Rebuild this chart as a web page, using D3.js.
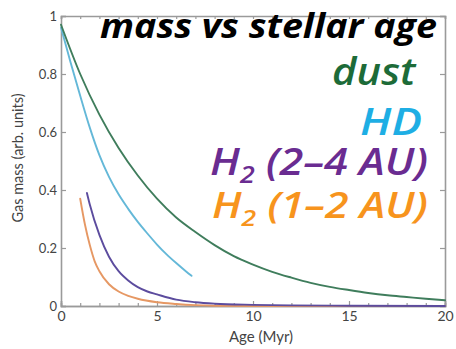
<!DOCTYPE html>
<html><head><meta charset="utf-8">
<script src="https://cdn.jsdelivr.net/npm/d3@7"></script>
<style>html,body{margin:0;padding:0;background:#fff;overflow:hidden}</style>
</head><body>
<svg id="c" width="456" height="349"></svg>
<script>
// ---- data ----
const dustAge = [0,1,2,3,4,5,6,7,8,9,10,11,12,13,14,15,16,17,18,19,20];
const dustMass = [0.97,0.80,0.66,0.545,0.45,0.37,0.305,0.255,0.21,0.172,0.143,0.118,0.098,0.08,0.066,0.055,0.045,0.037,0.031,0.025,0.02];
const hdAge = [0,0.5,1,1.5,2,2.5,3,3.5,4,4.5,5,5.5,6,6.5,6.8];
const hdMass = [0.96,0.84,0.725,0.615,0.52,0.445,0.385,0.335,0.29,0.25,0.212,0.178,0.148,0.12,0.104];
const h2outerAge = [1.35,1.5,2,2.5,3,3.5,4,4.5,5,6,7,8,10,12,15,20];
const h2outerMass = [0.39,0.35,0.245,0.17,0.12,0.088,0.065,0.05,0.04,0.022,0.013,0.008,0.004,0.002,0.001,0.0];
const h2innerAge = [1,1.25,1.5,1.75,2,2.5,3,3.5,4,5,6,7,8,10,20];
const h2innerMass = [0.37,0.28,0.21,0.155,0.12,0.075,0.05,0.035,0.025,0.013,0.007,0.003,0.001,0.0,0.0];
const xTicks = [0,5,10,15,20];
const xMinorTicks = [1,2,3,4,6,7,8,9,11,12,13,14,16,17,18,19];
const yTicks = [0,0.2,0.4,0.6,0.8,1];
const yTickLabels = ["0","0.2","0.4","0.6","0.8","1"];
const seriesNames = ["dust","HD","H2 (2–4 AU)","H2 (1–2 AU)"];
const titleText = "mass vs stellar age";
const xLabel = "Age (Myr)";
const yLabel = "Gas mass (arb. units)";

// ---- layout ----
const svg = d3.select("#c");
const L = 61, R = 445, T = 16, B = 306;
const x = d3.scaleLinear().domain([0,20]).range([L,R]);
const y = d3.scaleLinear().domain([0,1]).range([B,T]);
const axisColor = "#9a9a9a";
const tickFont = "Lato, 'Open Sans', sans-serif";

// axes
const gB = svg.append("g").attr("transform",`translate(0,${B})`)
  .call(d3.axisBottom(x).tickValues(xTicks).tickSize(-5).tickPadding(5).tickFormat(d3.format("d")));
const gBm = svg.append("g").attr("transform",`translate(0,${B})`)
  .call(d3.axisBottom(x).tickValues(xMinorTicks).tickSize(-3).tickFormat(""));
const gT = svg.append("g").attr("transform",`translate(0,${T})`)
  .call(d3.axisTop(x).tickValues(xTicks.concat(xMinorTicks)).tickSize(-3).tickFormat(""));
const gL = svg.append("g").attr("transform",`translate(${L},0)`)
  .call(d3.axisLeft(y).tickValues(yTicks).tickSize(-5).tickPadding(4).tickFormat((d,i)=>yTickLabels[i]));
const gR = svg.append("g").attr("transform",`translate(${R},0)`)
  .call(d3.axisRight(y).tickValues(yTicks).tickSize(-5).tickFormat(""));
[gB,gBm,gT,gL,gR].forEach(g=>{
  g.select(".domain").attr("stroke",axisColor).attr("stroke-width",1.6);
  g.selectAll(".tick line").attr("stroke",axisColor).attr("stroke-width",1.2);
  g.selectAll("text").attr("fill","#444").style("font-family",tickFont).style("font-size","13px");
});
gB.selectAll("text").style("font-size","14px");

// series lines
const line = d3.line().x(d=>x(d[0])).y(d=>y(d[1])).curve(d3.curveMonotoneX);
const series = [
  {a:dustAge, m:dustMass, c:"#3f7d5c"},
  {a:hdAge, m:hdMass, c:"#64b8d8"},
  {a:h2outerAge, m:h2outerMass, c:"#5c4c9e"},
  {a:h2innerAge, m:h2innerMass, c:"#e69864"}
];
series.slice().reverse().forEach(s=>{
  svg.append("path").datum(d3.zip(s.a,s.m)).attr("d",line)
    .attr("fill","none").attr("stroke",s.c).attr("stroke-width",1.9).attr("stroke-linecap","round");
});

// axis labels
svg.append("text").attr("x",(L+R)/2+8).attr("y",342).attr("text-anchor","middle")
  .style("font-family",tickFont).style("font-size","15px").attr("fill","#444").text(xLabel);
svg.append("text").attr("transform","translate(23,158) rotate(-90)").attr("text-anchor","middle")
  .style("font-family",tickFont).style("font-size","14.5px").attr("fill","#444").text(yLabel);

// big labels, fitted to measured boxes
function fitLabel(build, left, right, baseline, fs, weight, color){
  const g = svg.append("g");
  const t = g.append("text").attr("x",0).attr("y",0).attr("text-anchor","start")
    .style("font-family","'Open Sans', Lato, sans-serif").style("font-style","italic")
    .style("font-weight",weight).style("font-size",fs+"px").attr("fill",color);
  build(t, fs);
  const bb = t.node().getBBox();
  const sx = (right-left)/bb.width;
  g.attr("transform",`translate(${left - bb.x*sx},${baseline}) scale(${sx},1)`);
}
fitLabel(t=>t.text(titleText), 100, 437, 38, 34, 700, "#000");
fitLabel(t=>t.text(seriesNames[0]), 332, 417, 85, 37, 600, "#1d6b38");
fitLabel(t=>t.text(seriesNames[1]), 360, 422, 135, 38, 600, "#1eaee4");
function h2(label){
  const rest = label.replace(/^H2/,"");
  return (t,fs)=>{
    t.append("tspan").text("H");
    t.append("tspan").attr("dy",8).style("font-size",(fs*0.62)+"px").text("2");
    t.append("tspan").attr("dy",-8).text(rest);
  };
}
fitLabel(h2(seriesNames[2]), 210, 428, 175, 37, 600, "#6a2c91");
fitLabel(h2(seriesNames[3]), 212, 428, 218, 36, 600, "#f7941d");
</script>
</body></html>
